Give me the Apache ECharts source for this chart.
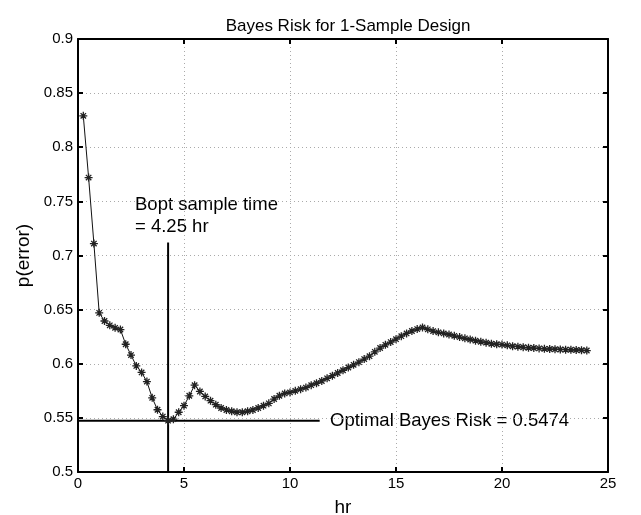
<!DOCTYPE html>
<html>
<head>
<meta charset="utf-8">
<script src="https://cdn.jsdelivr.net/npm/echarts@6/dist/echarts.min.js"></script>
<style>html,body{margin:0;padding:0;background:#fff}#c{width:641px;height:515px}</style>
</head>
<body>
<div id="c"></div>
<script>
var hours = [];
for (var i = 1; i <= 96; i++) hours.push(i * 0.25);
var risk = [
0.829,0.772,0.711,0.647,0.6395,0.6355,0.6332,0.6316,
0.618,0.608,0.598,0.592,0.5835,0.5685,0.5575,0.5512,
0.5474,0.5488,0.5552,0.5613,0.5704,0.5802,0.5744,0.5698,
0.5659,0.5622,0.5591,0.5573,0.5561,0.5552,0.5552,0.5561,
0.5573,0.5591,0.5613,0.5634,0.5674,0.5704,0.5726,0.5735,
0.575,0.5765,0.578,0.5802,0.582,0.5841,0.5865,0.589,
0.5915,0.594,0.5965,0.599,0.6015,0.6043,0.607,0.611,
0.6145,0.6175,0.620,0.6227,0.6255,0.628,0.6303,0.632,
0.6335,0.6318,0.6302,0.629,0.628,0.627,0.6258,0.6246,
0.6235,0.6224,0.6213,0.6203,0.6195,0.6185,0.618,0.6177,
0.617,0.6162,0.6158,0.6152,0.6148,0.6145,0.6142,0.6138,
0.6136,0.6134,0.6132,0.613,0.6129,0.6127,0.6125,0.6122
];
var optTime = 4.25;
var optRisk = 0.5474;
var vLineTop = 0.712;
var hLineEnd = 11.4;
var titleText = 'Bayes Risk for 1-Sample Design';
var xName = 'hr';
var yName = 'p(error)';
var noteTime = ['Bopt sample time', '= 4.25 hr'];
var noteRisk = 'Optimal Bayes Risk = 0.5474';

var data = hours.map(function (h, i) { return [h, risk[i]]; });
var star = 'path://M5,0L5,10M0,5L10,5M1.6,1.6L8.4,8.4M8.4,1.6L1.6,8.4';
var font = 'Liberation Sans, Arial, Helvetica, sans-serif';
var gridLine = { show: true, lineStyle: { color: '#aaa', type: [1, 3], width: 1 } };

var chart = echarts.init(document.getElementById('c'), null, { renderer: 'canvas' });
chart.setOption({
  animation: false,
  backgroundColor: '#fff',
  title: { text: titleText, left: 343, top: 11, textAlign: 'center',
    textStyle: { fontFamily: font, fontSize: 17, fontWeight: 'normal', color: '#000', lineHeight: 20 } },
  grid: { left: 78, right: 33, top: 39, bottom: 43, containLabel: false, outerBoundsMode: 'none' },
  xAxis: [{
    type: 'value', min: 0, max: 25, interval: 5, position: 'bottom',
    name: xName, nameLocation: 'middle', nameGap: 26,
    nameTextStyle: { fontFamily: font, fontSize: 19, color: '#000' },
    axisLine: { lineStyle: { color: '#000', width: 2 } },
    axisTick: { inside: true, length: 5, lineStyle: { color: '#000', width: 2 } },
    axisLabel: { fontFamily: font, fontSize: 15, color: '#000', margin: 4 },
    splitLine: gridLine
  }, {
    type: 'value', min: 0, max: 25, interval: 5, position: 'top',
    axisLine: { onZero: false, lineStyle: { color: '#000', width: 2 } },
    axisTick: { inside: true, length: 5, lineStyle: { color: '#000', width: 2 } },
    axisLabel: { show: false }, splitLine: { show: false }
  }],
  yAxis: [{
    type: 'value', min: 0.5, max: 0.9, interval: 0.05, position: 'left',
    name: yName, nameLocation: 'middle', nameGap: 45, nameRotate: 90,
    nameTextStyle: { fontFamily: font, fontSize: 19, color: '#000' },
    axisLine: { show: true, lineStyle: { color: '#000', width: 2 } },
    axisTick: { show: true, inside: true, length: 5, lineStyle: { color: '#000', width: 2 } },
    axisLabel: { fontFamily: font, fontSize: 15, color: '#000', margin: 5,
      formatter: function (v) { return String(+v.toFixed(2)); } },
    splitLine: gridLine
  }, {
    type: 'value', min: 0.5, max: 0.9, interval: 0.05, position: 'right',
    axisLine: { show: true, onZero: false, lineStyle: { color: '#000', width: 2 } },
    axisTick: { show: true, inside: true, length: 5, lineStyle: { color: '#000', width: 2 } },
    axisLabel: { show: false }, splitLine: { show: false }
  }],
  series: [{
    type: 'line', data: data, xAxisIndex: 0, yAxisIndex: 0,
    symbol: star, symbolSize: 8,
    lineStyle: { color: '#111', width: 1 },
    itemStyle: { color: 'rgba(0,0,0,0)', borderColor: '#222', borderWidth: 1.3 },
    z: 5
  }, {
    type: 'line', data: [[optTime, 0.5], [optTime, vLineTop]], symbol: 'none',
    lineStyle: { color: '#000', width: 2 }, z: 4
  }, {
    type: 'line', data: [[0, optRisk], [hLineEnd, optRisk]], symbol: 'none',
    lineStyle: { color: '#000', width: 2 }, z: 4
  }],
  graphic: [{
    type: 'text', left: 135, top: 194,
    style: { text: noteTime.join('\n'), fontFamily: font, fontSize: 18.5, lineHeight: 22, fill: '#000' }
  }, {
    type: 'text', left: 330, top: 410,
    style: { text: noteRisk, fontFamily: font, fontSize: 18.5, lineHeight: 22, fill: '#000' }
  }]
});
</script>
</body>
</html>
